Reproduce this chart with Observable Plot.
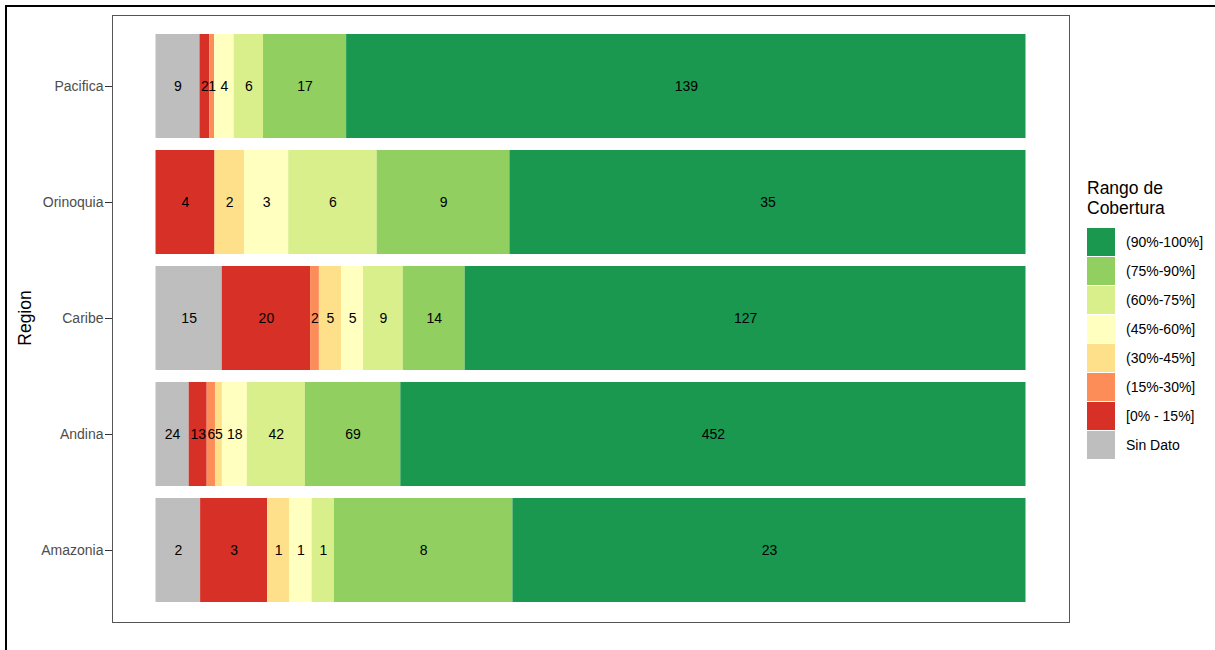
<!DOCTYPE html>
<html>
<head>
<meta charset="utf-8">
<script src="https://cdn.jsdelivr.net/npm/d3@7"></script>
<script src="https://cdn.jsdelivr.net/npm/@observablehq/plot@0.6"></script>
<style>
  body { margin: 0; background: #fff; font-family: "Liberation Sans", Arial, sans-serif; }
  #wrap { position: relative; width: 1215px; height: 650px; overflow: hidden; }
  #outer { position: absolute; left: 5px; top: 5px; width: 1300px; height: 700px; border-left: 2px solid #000; border-top: 2px solid #000; pointer-events: none; }
  #ytitle { position: absolute; left: 25px; top: 318px; transform: translate(-50%, -50%) rotate(-90deg); font-size: 17.5px; color: #000; white-space: nowrap; }
  #legend { position: absolute; left: 1087px; top: 178px; color: #000; }
  #legend .title { font-size: 17.5px; line-height: 20px; margin-bottom: 9px; }
  #legend .row { display: flex; align-items: center; height: 29px; }
  #legend .key { width: 28px; height: 28px; margin-right: 11px; }
  #legend .lab { font-size: 14px; color: #000; }
</style>
</head>
<body>
<div id="wrap">
  <div id="chart"></div>
  <div id="ytitle">Region</div>
  <div id="legend"></div>
  <div id="outer"></div>
</div>
<script>
const regions = ["Pacifica", "Orinoquia", "Caribe", "Andina", "Amazonia"];
const categories = ["Sin Dato", "[0% - 15%]", "(15%-30%]", "(30%-45%]", "(45%-60%]", "(60%-75%]", "(75%-90%]", "(90%-100%]"];
const colors = ["#bebebe", "#d73027", "#fc8d59", "#fee08b", "#ffffbf", "#d9ef8b", "#91cf60", "#1a9850"];
// counts per region, in the order of categories
const pacifica  = [9, 2, 1, 0, 4, 6, 17, 139];
const orinoquia = [0, 4, 0, 2, 3, 6, 9, 35];
const caribe    = [15, 20, 2, 5, 5, 9, 14, 127];
const andina    = [24, 13, 6, 5, 18, 42, 69, 452];
const amazonia  = [2, 3, 0, 1, 1, 1, 8, 23];
const counts = [pacifica, orinoquia, caribe, andina, amazonia];

const data = [];
regions.forEach((r, i) => categories.forEach((c, j) => data.push({region: r, cat: c, value: counts[i][j]})));

const plot = Plot.plot({
  width: 1215,
  height: 650,
  marginLeft: 112,
  marginRight: 146,
  marginTop: 15,
  marginBottom: 28,
  style: {fontFamily: "'Liberation Sans', Arial, sans-serif", background: "#fff"},
  x: {domain: [-0.05, 1.05], axis: null},
  y: {domain: regions, paddingInner: 0.1, paddingOuter: 0.15, label: null},
  color: {domain: categories, range: colors},
  marks: [
    Plot.barX(data, Plot.stackX({y: "region", x: "value", fill: "cat", z: "cat", offset: "normalize", order: null, filter: d => d.value > 0})),
    Plot.textX(data, Plot.stackX({y: "region", x: "value", z: "cat", offset: "normalize", order: null, filter: d => d.value > 0, text: d => String(d.value), fill: "#000", fontSize: 14})),
    Plot.frame({stroke: "#555", strokeWidth: 1}),
    Plot.axisY({tickSize: 7, tickPadding: 2, fontSize: 14, color: "#4d4d4d", stroke: "#333", label: null})
  ]
});
document.getElementById("chart").appendChild(plot);

const legend = document.getElementById("legend");
const t = document.createElement("div");
t.className = "title";
t.innerHTML = "Rango de<br>Cobertura";
legend.appendChild(t);
for (let j = categories.length - 1; j >= 0; j--) {
  const row = document.createElement("div");
  row.className = "row";
  const k = document.createElement("div");
  k.className = "key";
  k.style.background = colors[j];
  const l = document.createElement("div");
  l.className = "lab";
  l.textContent = categories[j];
  row.appendChild(k); row.appendChild(l);
  legend.appendChild(row);
}
</script>
</body>
</html>
